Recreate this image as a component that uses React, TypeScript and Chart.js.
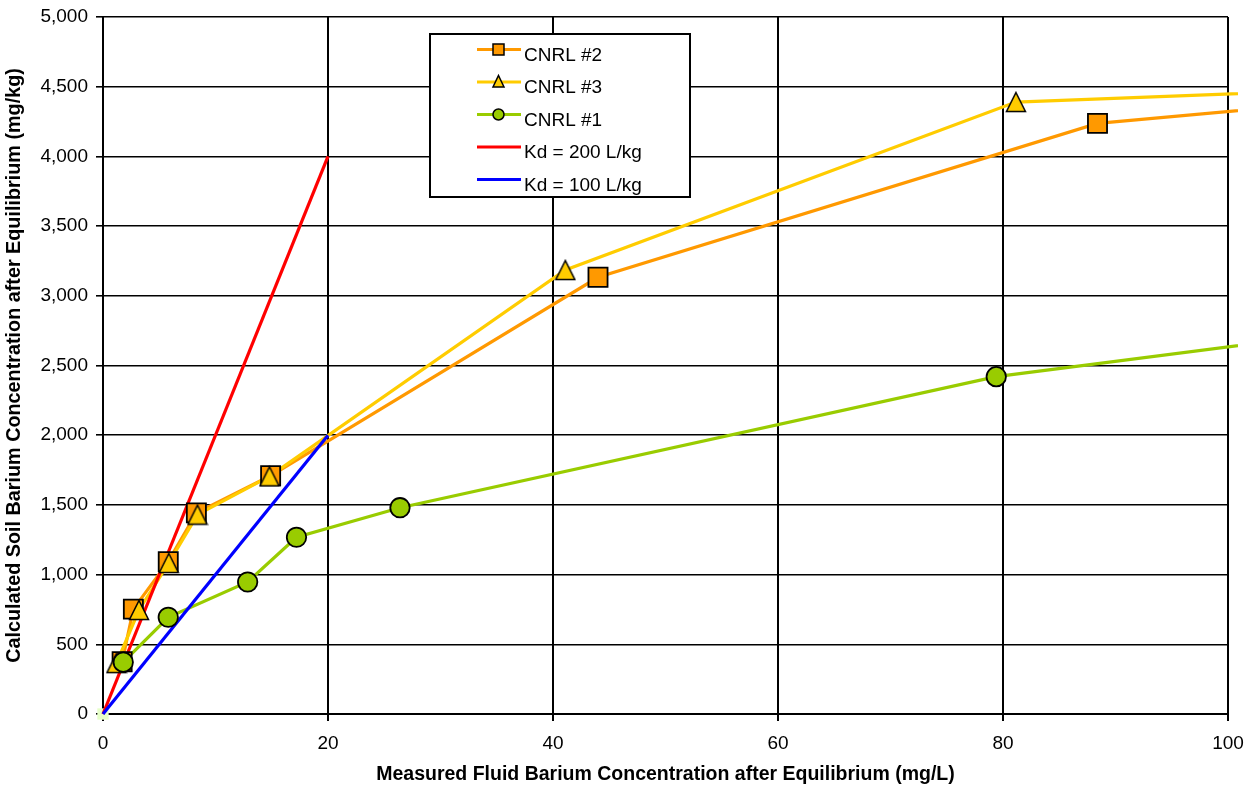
import React, { useEffect, useRef } from 'react';
import { Chart, registerables } from 'chart.js';

Chart.register(...registerables);

// ---- data ----
const seriesNames = ['CNRL #2', 'CNRL #3', 'CNRL #1', 'Kd = 200 L/kg', 'Kd = 100 L/kg'];

const cnrl2X = [1.7, 2.7, 5.8, 8.3, 14.9, 44.0, 88.4, 150];
const cnrl2Y = [375, 752, 1093, 1443, 1709, 3133, 4237, 4690];

const cnrl3X = [1.2, 3.2, 5.85, 8.4, 14.8, 41.1, 81.15, 150];
const cnrl3Y = [365, 746, 1083, 1430, 1705, 3185, 4390, 4600];

const cnrl1X = [1.8, 5.8, 12.86, 17.2, 26.4, 79.4, 150];
const cnrl1Y = [372, 694, 947, 1268, 1480, 2420, 3150];

const kd200X = [0, 20];
const kd200Y = [0, 4000];

const kd100X = [0, 20];
const kd100Y = [0, 2000];

const originX = [0];
const originY = [0];

const xTickValues = [0, 20, 40, 60, 80, 100];
const yTickValues = [0, 500, 1000, 1500, 2000, 2500, 3000, 3500, 4000, 4500, 5000];

const xTitle = 'Measured Fluid Barium Concentration after Equilibrium (mg/L)';
const yTitle = 'Calculated Soil Barium Concentration after Equilibrium (mg/kg)';

// ---- styles ----
const ORANGE = '#FF9900';
const YELLOW = '#FFCC00';
const GREEN = '#99CC00';
const RED = '#FF0000';
const BLUE = '#0000FF';
const FONT = "'Liberation Sans', Arial, sans-serif";

const toPts = (xs: number[], ys: number[]) => xs.map((x, i) => ({ x, y: ys[i] }));

function makeTriangle(size: number, fill: string, stroke: string | null, lw: number) {
  const c = document.createElement('canvas');
  c.width = size;
  c.height = size;
  const ctx = c.getContext('2d')!;
  const m = lw;
  ctx.beginPath();
  ctx.moveTo(size / 2, m);
  ctx.lineTo(size - m, size - m);
  ctx.lineTo(m, size - m);
  ctx.closePath();
  ctx.fillStyle = fill;
  ctx.fill();
  if (stroke) {
    ctx.lineWidth = lw;
    ctx.lineJoin = 'miter';
    ctx.strokeStyle = stroke;
    ctx.stroke();
  }
  return c;
}

const legendPlugin = {
  id: 'boxLegend',
  afterDraw(chart: any) {
    const ctx = chart.ctx as CanvasRenderingContext2D;
    ctx.save();
    ctx.fillStyle = '#ffffff';
    ctx.fillRect(430, 34, 260, 163);
    ctx.lineWidth = 2;
    ctx.strokeStyle = '#000000';
    ctx.strokeRect(430, 34, 260, 163);

    const colors = [ORANGE, YELLOW, GREEN, RED, BLUE];
    const markers = ['rect', 'triangle', 'circle', null, null];
    const x0 = 477;
    const x1 = 521;
    const xm = 498.5;
    for (let i = 0; i < seriesNames.length; i++) {
      const yl = 49.5 + i * 32.5;
      ctx.beginPath();
      ctx.moveTo(x0, yl);
      ctx.lineTo(x1, yl);
      ctx.lineWidth = 3;
      ctx.strokeStyle = colors[i];
      ctx.stroke();
      const mk = markers[i];
      ctx.lineWidth = 1.5;
      ctx.strokeStyle = '#000000';
      ctx.fillStyle = colors[i];
      if (mk === 'rect') {
        ctx.beginPath();
        ctx.rect(xm - 5.5, yl - 5.5, 11, 11);
        ctx.fill();
        ctx.stroke();
      } else if (mk === 'triangle') {
        ctx.beginPath();
        ctx.moveTo(xm, yl - 6.5);
        ctx.lineTo(xm + 5.5, yl + 5);
        ctx.lineTo(xm - 5.5, yl + 5);
        ctx.closePath();
        ctx.fill();
        ctx.stroke();
      } else if (mk === 'circle') {
        ctx.beginPath();
        ctx.arc(xm, yl, 5.5, 0, Math.PI * 2);
        ctx.fill();
        ctx.stroke();
      }
      ctx.fillStyle = '#000000';
      ctx.font = `19px ${FONT}`;
      ctx.textBaseline = 'alphabetic';
      ctx.textAlign = 'left';
      ctx.fillText(seriesNames[i], 524, yl + 11);
    }
    ctx.restore();
  },
};

export default function App() {
  const canvasRef = useRef<HTMLCanvasElement | null>(null);

  useEffect(() => {
    document.body.style.margin = '0';
    const canvas = canvasRef.current;
    if (!canvas) return;

    const triBig = makeTriangle(22, YELLOW, '#000000', 1.5);
    const clip = { left: 10, top: 10, right: 10, bottom: 10 };

    const chart = new Chart(canvas, {
      type: 'scatter',
      data: {
        datasets: [
          {
            label: 'origin',
            data: toPts(originX, originY),
            showLine: false,
            pointStyle: 'rect',
            pointRadius: 8,
            pointBackgroundColor: '#e6ffc8',
            pointBorderWidth: 0,
            order: 20,
            clip,
          } as any,
          {
            label: seriesNames[0] + ' line',
            data: toPts(cnrl2X, cnrl2Y),
            showLine: true,
            borderColor: ORANGE,
            borderWidth: 3.2,
            pointRadius: 0,
            order: 10,
            clip,
          },
          {
            label: seriesNames[1] + ' line',
            data: toPts(cnrl3X, cnrl3Y),
            showLine: true,
            borderColor: YELLOW,
            borderWidth: 3.2,
            pointRadius: 0,
            order: 9,
            clip,
          },
          {
            label: seriesNames[2] + ' line',
            data: toPts(cnrl1X, cnrl1Y),
            showLine: true,
            borderColor: GREEN,
            borderWidth: 3.2,
            pointRadius: 0,
            order: 8,
            clip,
          },
          {
            label: seriesNames[3],
            data: toPts(kd200X, kd200Y),
            showLine: true,
            borderColor: RED,
            borderWidth: 3.2,
            pointRadius: 0,
            order: 7,
            clip,
          },
          {
            label: seriesNames[4],
            data: toPts(kd100X, kd100Y),
            showLine: true,
            borderColor: BLUE,
            borderWidth: 3.2,
            pointRadius: 0,
            order: 6,
            clip,
          },
          {
            label: seriesNames[0],
            data: toPts(cnrl2X, cnrl2Y),
            showLine: false,
            pointStyle: 'rect',
            pointRadius: 13.5,
            pointBackgroundColor: ORANGE,
            pointBorderColor: '#000000',
            pointBorderWidth: 1.8,
            order: 3,
            clip,
          },
          {
            label: seriesNames[1],
            data: toPts(cnrl3X, cnrl3Y),
            showLine: false,
            pointStyle: triBig as any,
            pointRadius: 11,
            order: 2,
            clip,
          },
          {
            label: seriesNames[2],
            data: toPts(cnrl1X, cnrl1Y),
            showLine: false,
            pointStyle: 'circle',
            pointRadius: 9.7,
            pointBackgroundColor: GREEN,
            pointBorderColor: '#000000',
            pointBorderWidth: 1.8,
            order: 1,
            clip,
          },
        ],
      },
      options: {
        animation: false,
        responsive: true,
        maintainAspectRatio: false,
        events: [],
        layout: { padding: { left: 0, top: 17, right: 23, bottom: 0 } },
        plugins: {
          legend: { display: false },
          tooltip: { enabled: false },
        },
        scales: {
          x: {
            type: 'linear',
            min: 0,
            max: 100,
            afterFit: (s: any) => {
              s.height = 73;
              s.paddingLeft = 0;
              s.paddingRight = 0;
            },
            afterBuildTicks: (s: any) => {
              s.ticks = xTickValues.map((v) => ({ value: v }));
            },
            ticks: {
              color: '#000000',
              font: { family: FONT, size: 19 },
              padding: 11,
              maxRotation: 0,
              autoSkip: false,
            },
            grid: {
              color: '#000000',
              lineWidth: 2,
              tickLength: 7,
              tickColor: '#000000',
              tickWidth: 2,
            },
            border: { color: '#000000', width: 2 },
            title: {
              display: true,
              text: xTitle,
              color: '#000000',
              font: { family: FONT, size: 19.5, weight: 'bold' },
              padding: { top: 0, bottom: 1 },
            },
          },
          y: {
            type: 'linear',
            min: 0,
            max: 5000,
            afterFit: (s: any) => {
              s.width = 103;
              s.paddingTop = 0;
              s.paddingBottom = 0;
            },
            afterBuildTicks: (s: any) => {
              s.ticks = yTickValues.map((v) => ({ value: v }));
            },
            ticks: {
              color: '#000000',
              font: { family: FONT, size: 19 },
              padding: 8,
              autoSkip: false,
              callback: (v: any) => Number(v).toLocaleString('en-US'),
            },
            grid: {
              color: '#000000',
              lineWidth: 1.6,
              tickLength: 7,
              tickColor: '#000000',
              tickWidth: 1.6,
            },
            border: { color: '#000000', width: 2 },
            title: {
              display: true,
              text: yTitle,
              color: '#000000',
              font: { family: FONT, size: 19.8, weight: 'bold' },
              padding: { top: 3, bottom: 0 },
            },
          },
        },
      },
      plugins: [legendPlugin],
    });

    return () => {
      chart.destroy();
    };
  }, []);

  return (
    <div style={{ width: 1251, height: 787, position: 'relative' }}>
      <canvas ref={canvasRef} />
    </div>
  );
}
